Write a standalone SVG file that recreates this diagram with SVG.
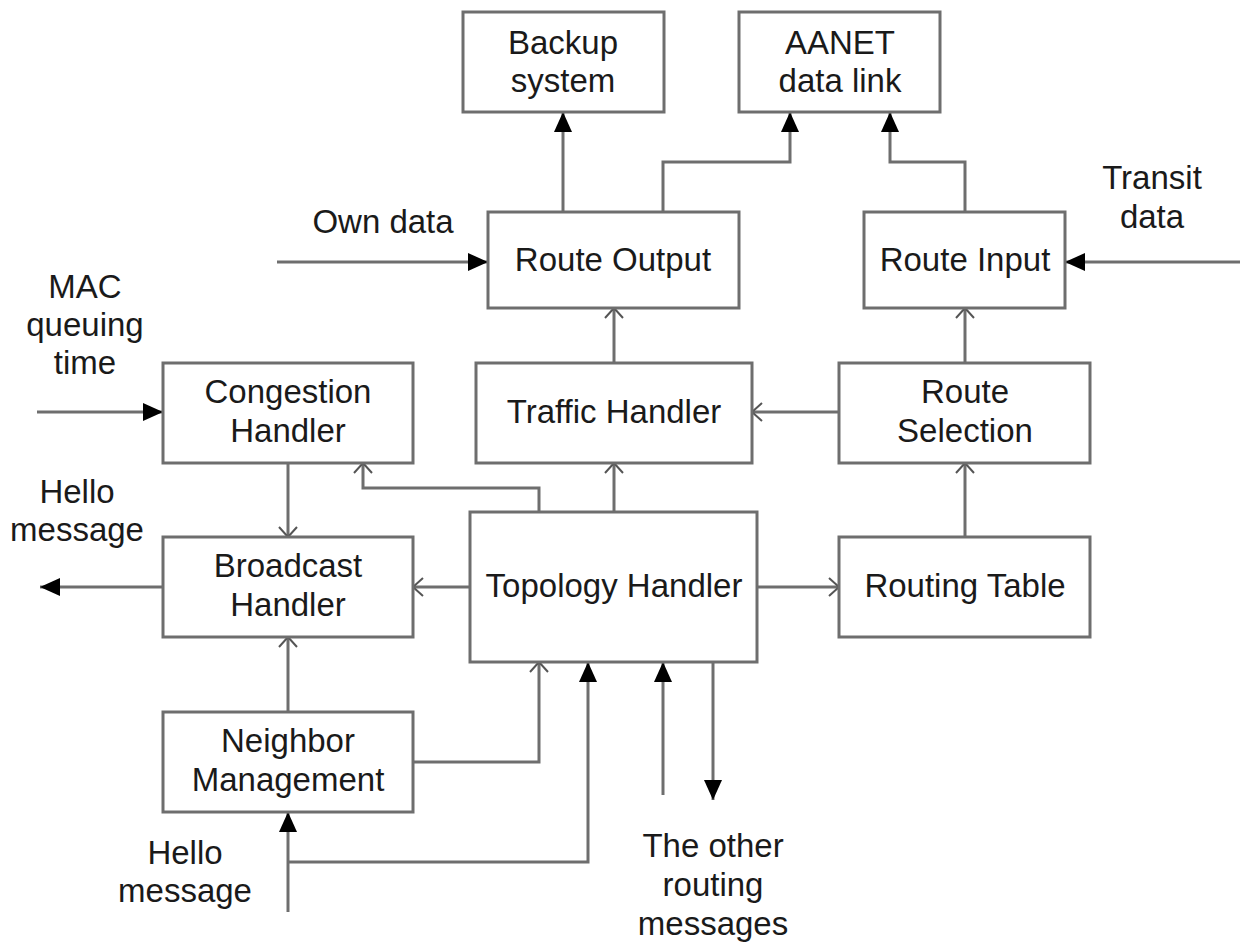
<svg xmlns="http://www.w3.org/2000/svg" width="1248" height="944" viewBox="0 0 1248 944">
  <style>
    .box { fill: #ffffff; stroke: #6e6e6e; stroke-width: 3; }
    .wire { fill: none; stroke: #6e6e6e; stroke-width: 3; }
    text { font-family: "Liberation Sans", Arial, sans-serif; font-size: 33px; fill: #1a1a1a; text-anchor: middle; }
  </style>
  <defs>
    <marker id="solid" markerUnits="userSpaceOnUse" markerWidth="22" markerHeight="20" refX="20" refY="9" orient="auto">
      <path d="M0,0 L20,9 L0,18 z" fill="#000000"/>
    </marker>
    <marker id="open" markerUnits="userSpaceOnUse" markerWidth="14" markerHeight="22" refX="11" refY="10" orient="auto">
      <path d="M1,1 L11,10 L1,19" fill="none" stroke="#555555" stroke-width="2"/>
    </marker>
  </defs>

  <!-- connectors -->
  <g id="connectors">
    <path class="wire" d="M563,212 V112" marker-end="url(#solid)"/>
    <path class="wire" d="M663,212 V162 H790 V112" marker-end="url(#solid)"/>
    <path class="wire" d="M965,212 V162 H890 V112" marker-end="url(#solid)"/>
    <path class="wire" d="M277,262 H488" marker-end="url(#solid)"/>
    <path class="wire" d="M1240,262 H1065" marker-end="url(#solid)"/>
    <path class="wire" d="M614,363 V308" marker-end="url(#open)"/>
    <path class="wire" d="M965,363 V308" marker-end="url(#open)"/>
    <path class="wire" d="M839,412 H752" marker-end="url(#open)"/>
    <path class="wire" d="M37,412 H163" marker-end="url(#solid)"/>
    <path class="wire" d="M288,463 V537" marker-end="url(#open)"/>
    <path class="wire" d="M539,512 V488 H363 V463" marker-end="url(#open)"/>
    <path class="wire" d="M614,512 V463" marker-end="url(#open)"/>
    <path class="wire" d="M965,537 V463" marker-end="url(#open)"/>
    <path class="wire" d="M470,587 H413" marker-end="url(#open)"/>
    <path class="wire" d="M757,587 H839" marker-end="url(#open)"/>
    <path class="wire" d="M163,587 H40" marker-end="url(#solid)"/>
    <path class="wire" d="M288,712 V637" marker-end="url(#open)"/>
    <path class="wire" d="M413,762 H539 V662" marker-end="url(#open)"/>
    <path class="wire" d="M288,912 V812" marker-end="url(#solid)"/>
    <path class="wire" d="M288,862 H588 V662" marker-end="url(#solid)"/>
    <path class="wire" d="M663,795 V662" marker-end="url(#solid)"/>
    <path class="wire" d="M713,662 V800" marker-end="url(#solid)"/>
  </g>

  <!-- nodes -->
  <g id="backup-system">
    <rect class="box" x="463" y="12" width="201" height="100"/>
    <text x="563" y="54">Backup</text>
    <text x="563" y="92">system</text>
  </g>
  <g id="aanet-data-link">
    <rect class="box" x="739" y="12" width="201" height="100"/>
    <text x="840" y="54">AANET</text>
    <text x="840" y="92">data link</text>
  </g>
  <g id="route-output">
    <rect class="box" x="488" y="212" width="251" height="96"/>
    <text x="613" y="271">Route Output</text>
  </g>
  <g id="route-input">
    <rect class="box" x="864" y="212" width="201" height="96"/>
    <text x="965" y="271">Route Input</text>
  </g>
  <g id="congestion-handler">
    <rect class="box" x="163" y="363" width="250" height="100"/>
    <text x="288" y="403">Congestion</text>
    <text x="288" y="442">Handler</text>
  </g>
  <g id="traffic-handler">
    <rect class="box" x="476" y="363" width="276" height="100"/>
    <text x="614" y="423">Traffic Handler</text>
  </g>
  <g id="route-selection">
    <rect class="box" x="839" y="363" width="251" height="100"/>
    <text x="965" y="403">Route</text>
    <text x="965" y="442">Selection</text>
  </g>
  <g id="broadcast-handler">
    <rect class="box" x="163" y="537" width="250" height="100"/>
    <text x="288" y="577">Broadcast</text>
    <text x="288" y="616">Handler</text>
  </g>
  <g id="topology-handler">
    <rect class="box" x="470" y="512" width="287" height="150"/>
    <text x="614" y="597">Topology Handler</text>
  </g>
  <g id="routing-table">
    <rect class="box" x="839" y="537" width="251" height="100"/>
    <text x="965" y="597">Routing Table</text>
  </g>
  <g id="neighbor-management">
    <rect class="box" x="163" y="712" width="250" height="100"/>
    <text x="288" y="752">Neighbor</text>
    <text x="288" y="791">Management</text>
  </g>

  <!-- free labels -->
  <g id="labels">
    <text x="383" y="233">Own data</text>
    <text x="1152" y="189">Transit</text>
    <text x="1152" y="228">data</text>
    <text x="85" y="298">MAC</text>
    <text x="85" y="336">queuing</text>
    <text x="85" y="374">time</text>
    <text x="77" y="503">Hello</text>
    <text x="77" y="541">message</text>
    <text x="185" y="864">Hello</text>
    <text x="185" y="902">message</text>
    <text x="713" y="857">The other</text>
    <text x="713" y="896">routing</text>
    <text x="713" y="935">messages</text>
  </g>
</svg>
